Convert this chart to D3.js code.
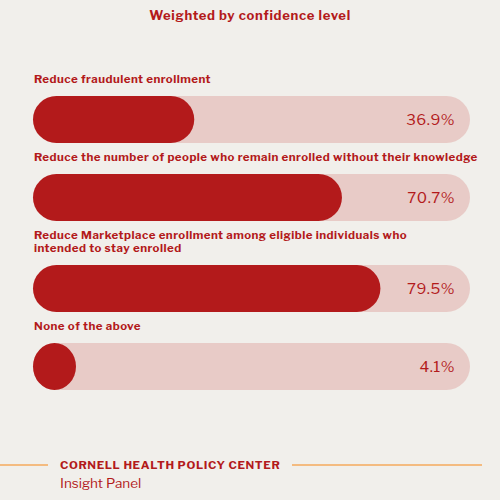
<!DOCTYPE html>
<html>
<head>
<meta charset="utf-8">
<script src="https://cdn.jsdelivr.net/npm/d3@7"></script>
<style>
  html, body { margin: 0; padding: 0; background: #f1efeb; }
  svg { display: block; font-family: "Libre Franklin", "Work Sans", "Noto Sans", sans-serif; }
</style>
</head>
<body>
<div id="chart"></div>
<script>
// data
const categories = [
  ["Reduce fraudulent enrollment"],
  ["Reduce the number of people who remain enrolled without their knowledge"],
  ["Reduce Marketplace enrollment among eligible individuals who", "intended to stay enrolled"],
  ["None of the above"]
];
const values = [36.9, 70.7, 79.5, 4.1];
const title = "Weighted by confidence level";
const footerOrg = "CORNELL HEALTH POLICY CENTER";
const footerSub = "Insight Panel";

const W = 500, H = 500;
const red = "#b31a1b", track = "#e8cbc7", orange = "#f5aa5c";
const barH = 47, lineH = 13;

const svg = d3.select("#chart").append("svg")
  .attr("width", W).attr("height", H);

svg.append("rect").attr("width", W).attr("height", H).attr("fill", "#f1efeb");

svg.append("text")
  .attr("x", 250).attr("y", 20)
  .attr("text-anchor", "middle")
  .attr("font-size", 13).attr("font-weight", 700)
  .attr("letter-spacing", 0.7)
  .attr("fill", red)
  .text(title);

const x = d3.scaleLinear().domain([0, 100]).range([33, 470]);

// stack rows: label lines, then the bar
let y = 83;
const rows = categories.map((lines, i) => {
  const labelY = y;
  const top = labelY + (lines.length - 1) * lineH + 13;
  y = top + barH + 18;
  return { lines, value: values[i], labelY, top };
});

const g = svg.selectAll(".row").data(rows).enter().append("g").attr("class", "row");

g.each(function(d) {
  const t = d3.select(this).append("text")
    .attr("font-size", 11.5).attr("font-weight", 700)
    .attr("letter-spacing", 0.45)
    .attr("fill", red);
  d.lines.forEach((l, j) => {
    t.append("tspan").attr("x", 34).attr("y", d.labelY + j * lineH).text(l);
  });
});

g.append("rect")
  .attr("x", x(0)).attr("y", d => d.top)
  .attr("width", x(100) - x(0)).attr("height", barH)
  .attr("rx", barH / 2)
  .attr("fill", track);

g.append("rect")
  .attr("x", x(0)).attr("y", d => d.top)
  .attr("width", d => Math.max(x(d.value) - x(0), barH - 4))
  .attr("height", barH)
  .attr("rx", barH / 2)
  .attr("fill", red);

g.append("text")
  .attr("x", 455).attr("y", d => d.top + barH / 2 + 5)
  .attr("text-anchor", "end")
  .attr("font-size", 15)
  .attr("letter-spacing", 0.5)
  .attr("fill", red)
  .text(d => d.value.toFixed(1) + "%");

// footer
svg.append("line").attr("x1", 0).attr("x2", 48).attr("y1", 465).attr("y2", 465)
  .attr("stroke", orange).attr("stroke-width", 1.5);
svg.append("line").attr("x1", 292).attr("x2", 482).attr("y1", 465).attr("y2", 465)
  .attr("stroke", orange).attr("stroke-width", 1.5);
svg.append("text")
  .attr("x", 60).attr("y", 469)
  .attr("font-size", 11.5).attr("font-weight", 700)
  .attr("letter-spacing", 0.6)
  .attr("fill", red)
  .text(footerOrg);
svg.append("text")
  .attr("x", 60).attr("y", 488)
  .attr("font-size", 13.5)
  .attr("fill", red)
  .text(footerSub);
</script>
</body>
</html>
